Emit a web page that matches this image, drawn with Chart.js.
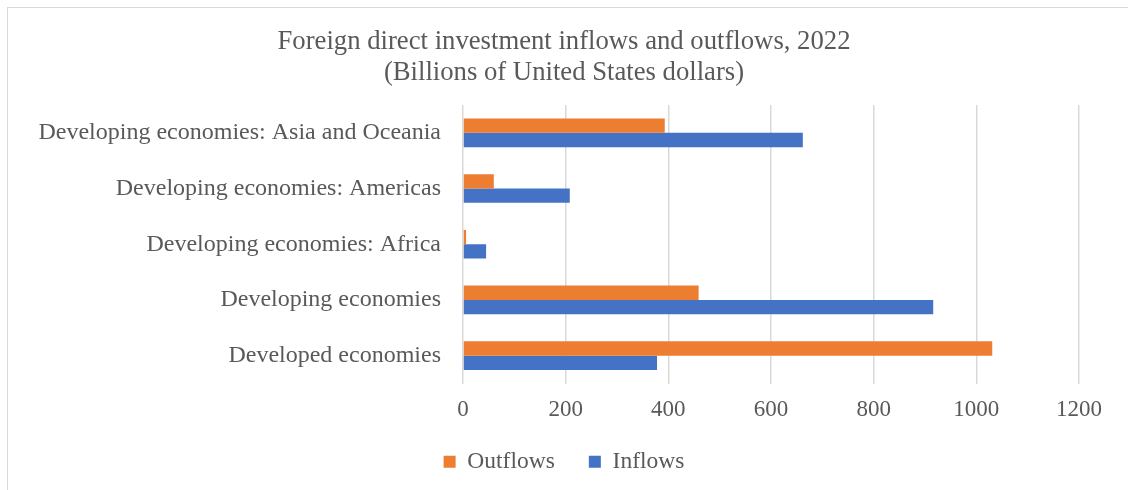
<!DOCTYPE html>
<html>
<head>
<meta charset="utf-8">
<script src="https://cdn.jsdelivr.net/npm/chart.js@4.4.1/dist/chart.umd.min.js"></script>
<style>
  html, body { margin: 0; padding: 0; background: #ffffff; overflow: hidden; }
  #frame { position: absolute; left: 7px; top: 7px; width: 1300px; height: 700px;
           border-top: 1.5px solid #d9d9d9; border-left: 1.5px solid #d9d9d9; }
  #wrap { position: absolute; left: 0; top: 0; width: 1128px; height: 490px; }
</style>
</head>
<body>
<div id="frame"></div>
<div id="wrap"><canvas id="chart"></canvas></div>
<script>
// FDI flows by economy group, billions of US dollars
const categories = [
  'Developing economies: Asia and Oceania',
  'Developing economies: Americas',
  'Developing economies: Africa',
  'Developing economies',
  'Developed economies'
];
const outflows = [393, 60, 6, 459, 1031];
const inflows = [662, 208, 45, 916, 378];
const xTicks = [0, 200, 400, 600, 800, 1000, 1200];
const titleLines = [
  'Foreign direct investment inflows and outflows, 2022',
  '(Billions of United States dollars)'
];

const SERIF = "'Liberation Serif', 'Times New Roman', serif";
const TEXT = '#595959';

new Chart(document.getElementById('chart'), {
  type: 'bar',
  data: {
    labels: categories,
    datasets: [
      { label: 'Outflows', data: outflows, backgroundColor: '#ED7D31',
        categoryPercentage: 0.515, barPercentage: 1.0 },
      { label: 'Inflows', data: inflows, backgroundColor: '#4472C4',
        categoryPercentage: 0.515, barPercentage: 1.0 }
    ]
  },
  options: {
    indexAxis: 'y',
    responsive: true,
    maintainAspectRatio: false,
    animation: false,
    layout: { padding: { left: 0, right: 0, top: 0, bottom: 6.5 } },
    scales: {
      x: {
        min: xTicks[0],
        max: xTicks[xTicks.length - 1],
        afterBuildTicks: (scale) => { scale.ticks = xTicks.map(v => ({ value: v })); },
        grid: { color: '#d9d9d9', lineWidth: 1.5, drawTicks: false },
        border: { display: false },
        ticks: {
          color: TEXT, font: { family: SERIF, size: 23 }, padding: 13,
          callback: (v) => String(v)
        },
        afterFit: (scale) => { scale.height = 32.5; }
      },
      y: {
        grid: { display: false, drawTicks: false },
        border: { display: false },
        ticks: { color: TEXT, font: { family: SERIF, size: 24 }, padding: 22 },
        afterFit: (scale) => { scale.width = 463; }
      },
      // blank strip on the right so the value axis ends at 1200 before the edge
      yRight: {
        type: 'category',
        position: 'right',
        grid: { display: false, drawTicks: false },
        border: { display: false },
        ticks: { display: false },
        afterFit: (scale) => { scale.width = 49; }
      }
    },
    plugins: {
      title: {
        display: true,
        text: titleLines,
        color: TEXT,
        font: { family: SERIF, size: 26.7, weight: 'normal', lineHeight: 1.16 },
        padding: { top: 27, bottom: 16 }
      },
      legend: {
        position: 'bottom',
        labels: {
          color: TEXT,
          font: { family: SERIF, size: 23.5 },
          boxWidth: 12,
          boxHeight: 12,
          padding: 34
        }
      },
      tooltip: { enabled: false }
    }
  }
});
</script>
</body>
</html>
